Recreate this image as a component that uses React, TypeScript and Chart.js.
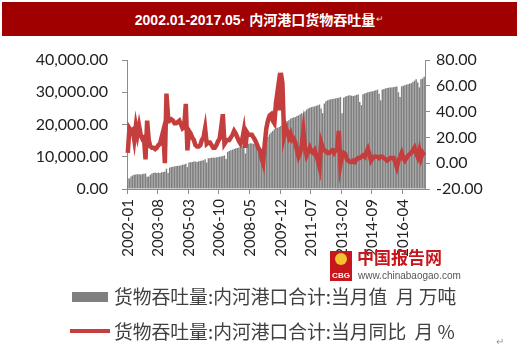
import React, { useEffect, useRef } from 'react';
import { Chart, registerables } from 'chart.js';

Chart.register(...registerables);

// Monthly categories 2002-01 .. 2017-05
const MONTHS: string[] = [];
for (let i = 0; i < 185; i++) {
  const y = 2002 + Math.floor(i / 12);
  const m = (i % 12) + 1;
  MONTHS.push(`${y}-${m < 10 ? '0' + m : m}`);
}

// 货物吞吐量:内河港口合计:当月值 (万吨)
const THROUGHPUT_2002 = [3400, 3200, 3900, 4200, 4400, 4500, 4600, 4600, 4500, 4600, 4700, 4800];
const THROUGHPUT_2003 = [3800, 3900, 4400, 4800, 5000, 5100, 5000, 5100, 5000, 5200, 5300, 5400];
const THROUGHPUT_2004 = [6300, 5000, 6600, 6800, 6900, 7000, 7100, 7200, 7200, 7400, 7500, 7600];
const THROUGHPUT_2005 = [7800, 6800, 8200, 8300, 8400, 8500, 8500, 8400, 8600, 8700, 8800, 8900];
const THROUGHPUT_2006 = [9200, 8200, 9500, 9600, 9700, 9800, 9700, 9800, 9900, 10000, 10100, 10200];
const THROUGHPUT_2007 = [10400, 9300, 11500, 11800, 12000, 12200, 12400, 12600, 12700, 12900, 13100, 13300];
const THROUGHPUT_2008 = [13000, 11000, 13800, 14000, 14200, 14100, 14000, 13900, 13700, 13200, 12000, 12300];
const THROUGHPUT_2009 = [12800, 12500, 15500, 16200, 17000, 17500, 18000, 18500, 18800, 19000, 19200, 19500];
const THROUGHPUT_2010 = [20000, 17500, 20500, 21000, 21300, 21800, 22000, 22200, 22300, 22600, 22800, 23200];
const THROUGHPUT_2011 = [23500, 20000, 24000, 24600, 25000, 25200, 25400, 25500, 25600, 25800, 26000, 26200];
const THROUGHPUT_2012 = [25000, 23500, 26500, 27200, 27500, 27700, 27800, 27900, 28000, 28100, 28200, 28300];
const THROUGHPUT_2013 = [28500, 23500, 28300, 28600, 28800, 29000, 29100, 28900, 28800, 29000, 29200, 29300];
const THROUGHPUT_2014 = [27000, 26000, 29400, 29600, 29800, 30000, 30100, 30200, 30300, 30500, 30600, 30800];
const THROUGHPUT_2015 = [29500, 27500, 30800, 31000, 31200, 31300, 31400, 31500, 31500, 31600, 31700, 31800];
const THROUGHPUT_2016 = [30000, 28500, 31800, 32000, 32200, 32400, 32500, 32700, 32800, 33200, 33600, 34000];
const THROUGHPUT_2017 = [33000, 31500, 34000, 34300, 34800];

const THROUGHPUT = [
  ...THROUGHPUT_2002, ...THROUGHPUT_2003, ...THROUGHPUT_2004, ...THROUGHPUT_2005,
  ...THROUGHPUT_2006, ...THROUGHPUT_2007, ...THROUGHPUT_2008, ...THROUGHPUT_2009,
  ...THROUGHPUT_2010, ...THROUGHPUT_2011, ...THROUGHPUT_2012, ...THROUGHPUT_2013,
  ...THROUGHPUT_2014, ...THROUGHPUT_2015, ...THROUGHPUT_2016, ...THROUGHPUT_2017,
];

// 货物吞吐量:内河港口合计:当月同比 (%)
const YOY_2002 = [8, 27, 25, 26, 18, 29, 22, 29, 22, 19, 20, 3];
const YOY_2003 = [33, 18, 13, 12, 12, 11, 12, 14, 15, 20, 25, 0];
const YOY_2004 = [54, 36, 33, 34, 33, 31, 31, 32, 33, 30, 27, 28];
const YOY_2005 = [46, 10, 25, 23, 20, 18, 14, 13, 13, 14, 18, 20];
const YOY_2006 = [27, 15, 16, 16, 14, 12, 12, 14, 17, 19, 28, 38];
const YOY_2007 = [15, 17, 18, 18, 20, 22, 25, 23, 20, 17, 15, 18];
const YOY_2008 = [25, 12, 24, 22, 22, 22, 20, 18, 15, 12, 10, 4];
const YOY_2009 = [0, 15, 27, 33, 37, 38, 33, 31, 47, 56, 41, 70];
const YOY_2010 = [62, 22, 28, 24, 20, 23, 18, 19, 16, 10, 5, 8];
const YOY_2011 = [14, 25, 12, 6, 9, 12, 9, 8, 10, 6, 2, -3];
const YOY_2012 = [16, 12, 10, 9, 8, 8, 9, 10, 8, 10, 11, 25];
const YOY_2013 = [-1, 6, 8, 7, 3, 2, 1, 1, 2, 1, 3, 4];
const YOY_2014 = [4, 5, 6, 5, 8, 11, 7, 2, 4, 5, 5, 5];
const YOY_2015 = [4, 5, 5, 4, 3, 2, 3, 4, 4, 4, 1, -3];
const YOY_2016 = [2, 5, 8, 4, 2, 4, 6, 7, 8, 10, 12, 8];
const YOY_2017 = [5, 10, 4, 8, 6];

const YOY = [
  ...YOY_2002, ...YOY_2003, ...YOY_2004, ...YOY_2005, ...YOY_2006, ...YOY_2007,
  ...YOY_2008, ...YOY_2009, ...YOY_2010, ...YOY_2011, ...YOY_2012, ...YOY_2013,
  ...YOY_2014, ...YOY_2015, ...YOY_2016, ...YOY_2017,
];

const LEFT_TICKS = [0, 10000, 20000, 30000, 40000];
const RIGHT_TICKS = [-20, 0, 20, 40, 60, 80];
const LABEL_EVERY = 19;

const BAR_LABEL = '货物吞吐量:内河港口合计:当月值\u00a0\u00a0月 万吨';
const LINE_LABEL = '货物吞吐量:内河港口合计:当月同比\u00a0\u00a0月 %';
const TITLE = '2002.01-2017.05· 内河港口货物吞吐量';

const BAR_COLOR = '#7f7f7f';
const LINE_COLOR = '#c43e3e';
const AXIS_COLOR = '#8c8c8c';
const TEXT_COLOR = '#222222';
const FONT = "Lato, 'Noto Sans', sans-serif";

export default function App() {
  const ref = useRef<HTMLCanvasElement | null>(null);

  useEffect(() => {
    if (!ref.current) return;
    const chart = new Chart(ref.current, {
      data: {
        labels: MONTHS,
        datasets: [
          {
            type: 'line',
            label: LINE_LABEL,
            data: YOY,
            yAxisID: 'y1',
            borderColor: LINE_COLOR,
            backgroundColor: LINE_COLOR,
            borderWidth: 4.5,
            pointRadius: 0,
            tension: 0,
            order: 0,
          },
          {
            type: 'bar',
            label: BAR_LABEL,
            data: THROUGHPUT,
            yAxisID: 'y',
            backgroundColor: BAR_COLOR,
            borderWidth: 0,
            barPercentage: 0.9,
            categoryPercentage: 1,
            order: 1,
          },
        ],
      },
      options: {
        responsive: false,
        animation: false,
        devicePixelRatio: 1,
        layout: { padding: { top: 60, left: 0, right: 0, bottom: 0 } },
        plugins: {
          legend: { display: false },
          tooltip: { enabled: false },
          title: { display: false },
        },
        scales: {
          x: {
            type: 'category',
            offset: true,
            grid: {
              display: true,
              drawOnChartArea: false,
              drawTicks: true,
              tickLength: 5,
              tickColor: (ctx: any) => (ctx.index % LABEL_EVERY === 0 ? AXIS_COLOR : 'rgba(0,0,0,0)'),
            },
            border: { display: true, color: AXIS_COLOR, width: 1 },
            ticks: {
              autoSkip: false,
              maxRotation: 90,
              minRotation: 90,
              padding: 5,
              color: TEXT_COLOR,
              font: { family: FONT, size: 15 },
              callback: (_v: any, i: number) => (i % LABEL_EVERY === 0 ? MONTHS[i] : ''),
            },
            afterFit: (s: any) => { s.height = 168; },
          },
          y: {
            type: 'linear',
            position: 'left',
            min: LEFT_TICKS[0],
            max: LEFT_TICKS[LEFT_TICKS.length - 1],
            afterBuildTicks: (s: any) => { s.ticks = LEFT_TICKS.map((v) => ({ value: v })); },
            grid: { display: true, drawOnChartArea: false, tickLength: 5, tickColor: AXIS_COLOR },
            border: { display: true, color: AXIS_COLOR, width: 1 },
            ticks: {
              padding: 14,
              color: TEXT_COLOR,
              font: { family: FONT, size: 16 },
              callback: (v: any) =>
                Number(v).toLocaleString('en-US', { minimumFractionDigits: 2, maximumFractionDigits: 2 }),
            },
            afterFit: (s: any) => { s.width = 127; },
          },
          y1: {
            type: 'linear',
            position: 'right',
            min: RIGHT_TICKS[0],
            max: RIGHT_TICKS[RIGHT_TICKS.length - 1],
            afterBuildTicks: (s: any) => { s.ticks = RIGHT_TICKS.map((v) => ({ value: v })); },
            grid: { display: true, drawOnChartArea: false, tickLength: 5, tickColor: AXIS_COLOR },
            border: { display: true, color: AXIS_COLOR, width: 1 },
            ticks: {
              padding: 6,
              color: TEXT_COLOR,
              font: { family: FONT, size: 16 },
              callback: (v: any) => Number(v).toFixed(2),
            },
            afterFit: (s: any) => { s.width = 95; },
          },
        },
      },
    } as any);
    return () => chart.destroy();
  }, []);

  const legendText: React.CSSProperties = {
    position: 'absolute',
    left: 114,
    fontFamily: "'Noto Sans CJK SC', sans-serif",
    fontSize: 18.8,
    color: '#404040',
    whiteSpace: 'nowrap',
    lineHeight: '20px',
  };

  return (
    <div style={{ position: 'fixed', left: 0, top: 0, width: 520, height: 357, background: '#fff', overflow: 'hidden' }}>
      <canvas ref={ref} width={520} height={357} style={{ position: 'absolute', left: 0, top: 0 }} />
      <div
        style={{
          position: 'absolute', left: 2, top: 2, width: 515, height: 34, background: '#a00000',
          color: '#fff', fontWeight: 'bold', fontSize: 14,
          fontFamily: "'Liberation Sans', 'Noto Sans CJK SC', sans-serif",
          display: 'flex', alignItems: 'center', justifyContent: 'center',
        }}
      >
        {TITLE}<span style={{ fontSize: 9, color: '#ddd', fontWeight: 'normal', marginLeft: 1 }}>↵</span>
      </div>
      {/* watermark */}
      <div style={{ position: 'absolute', left: 330, top: 251, width: 22, height: 30, background: '#c8161d' }}>
        <div style={{ position: 'absolute', left: 5, top: 2, width: 12, height: 12, borderRadius: 6, background: '#f2c230' }} />
        <div style={{ position: 'absolute', left: 0, bottom: 1, width: 22, textAlign: 'center', color: '#fff', fontSize: 8, fontWeight: 'bold', fontFamily: "'Liberation Sans', sans-serif" }}>CBG</div>
      </div>
      <div style={{ position: 'absolute', left: 357, top: 247, color: '#c8161d', fontSize: 17, fontWeight: 'bold', fontFamily: "'Noto Sans CJK SC', sans-serif", lineHeight: '20px', whiteSpace: 'nowrap' }}>中国报告网</div>
      <div style={{ position: 'absolute', left: 358, top: 270, color: '#555', fontSize: 10, fontFamily: "'Liberation Sans', sans-serif", lineHeight: '12px', whiteSpace: 'nowrap' }}>www.chinabaogao.com</div>
      {/* legend */}
      <div style={{ position: 'absolute', left: 72, top: 292, width: 36, height: 10, background: BAR_COLOR }} />
      <div style={{ ...legendText, top: 286 }}>{BAR_LABEL}</div>
      <div style={{ position: 'absolute', left: 70, top: 329, width: 40, height: 4, background: LINE_COLOR }} />
      <div style={{ ...legendText, top: 321 }}>{LINE_LABEL}</div>
      <div style={{ position: 'absolute', left: 496, top: 336, color: '#999', fontSize: 10 }}>↵</div>
    </div>
  );
}
